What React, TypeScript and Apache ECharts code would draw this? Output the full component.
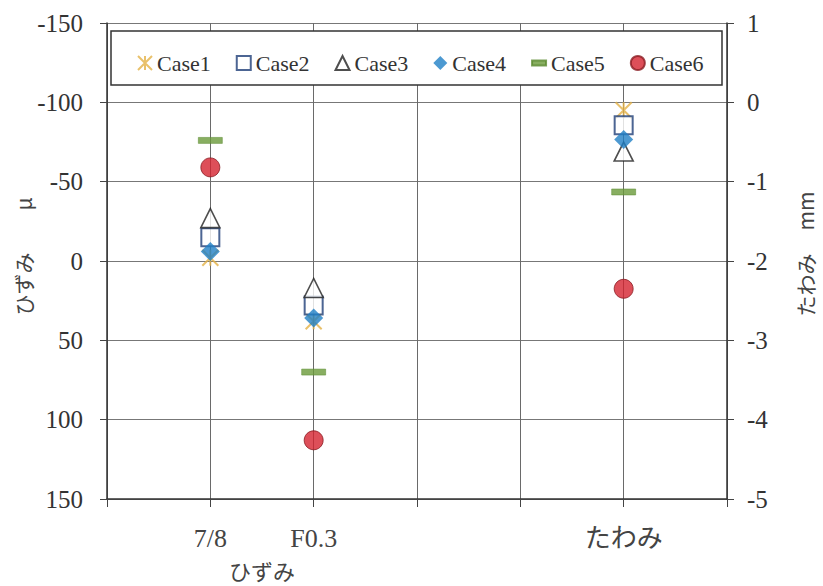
import React, { useEffect, useRef } from "react";
import * as echarts from "echarts";

const xLabels = ["", "7/8", "F0.3", "", "", "たわみ", ""];
const caseNames = ["Case1", "Case2", "Case3", "Case4", "Case5", "Case6"];
// strain (μ) at 7/8 and F0.3, left axis
const strain78 = [-2, -15, -27, -6, -76, -59];
const strainF03 = [38, 28, 17, 36, 70, 113];
// deflection (mm), right axis
const deflection = [-0.1, -0.29, -0.62, -0.47, -1.13, -2.35];
const leftTicks = { min: -150, max: 150, interval: 50 };
const rightTicks = { min: -5, max: 1, interval: 1 };

const FONT = "Liberation Serif, Noto Sans CJK JP, serif";
const JP = "Noto Sans CJK JP, sans-serif";

const styles = [
  {
    symbol: "path://M0,0L10,10M10,0L0,10M5,0L5,10",
    symbolSize: 16,
    itemStyle: { color: "rgba(0,0,0,0)", borderColor: "#e3b246", borderWidth: 2 },
  },
  {
    symbol: "rect",
    symbolSize: 18,
    itemStyle: { color: "#ffffff", borderColor: "#1f3f78", borderWidth: 2 },
  },
  {
    symbol: "triangle",
    symbolSize: 19,
    itemStyle: { color: "#ffffff", borderColor: "#222222", borderWidth: 1.6 },
  },
  {
    symbol: "diamond",
    symbolSize: 19,
    itemStyle: { color: "#1f80c6", borderColor: "#1f80c6", borderWidth: 0 },
  },
  {
    symbol: "rect",
    symbolSize: [24, 6],
    itemStyle: { color: "#6a9a3a", borderColor: "#5a8a30", borderWidth: 0.5 },
  },
  {
    symbol: "circle",
    symbolSize: 19,
    itemStyle: { color: "#d52330", borderColor: "#8a1c22", borderWidth: 1 },
  },
];

const legendIcons = [
  "path://M0,0L10,10M10,0L0,10M5,0L5,10",
  "rect",
  "triangle",
  "diamond",
  "path://M0,0L10,0L10,3.5L0,3.5Z",
  "circle",
];

const vText = (text: string, x: number, y: number) => ({
  type: "text",
  x,
  y,
  rotation: Math.PI / 2,
  style: {
    text,
    font: "21px " + JP,
    fill: "#444",
    align: "center",
    verticalAlign: "middle",
  },
  z: 10,
});

export default function App() {
  const ref = useRef<HTMLDivElement>(null);
  useEffect(() => {
    if (!ref.current) return;
    const chart = echarts.init(ref.current, undefined, { renderer: "svg" });
    const series: any[] = [];
    caseNames.forEach((name, i) => {
      series.push({
        name,
        type: "scatter",
        xAxisIndex: 0,
        yAxisIndex: 0,
        ...styles[i],
        z: 3 + i,
        data: [
          [xLabels.indexOf("7/8"), strain78[i]],
          [xLabels.indexOf("F0.3"), strainF03[i]],
        ],
      });
      series.push({
        name,
        type: "scatter",
        xAxisIndex: 0,
        yAxisIndex: 1,
        ...styles[i],
        z: 3 + i,
        data: [[xLabels.indexOf("たわみ"), deflection[i]]],
      });
    });
    const axisLineStyle = { color: "#333", width: 1.5 };
    chart.setOption({
      animation: false,
      backgroundColor: "#ffffff",
      textStyle: { fontFamily: FONT },
      grid: { left: 107, right: 96, top: 23, bottom: 87, containLabel: false },
      legend: {
        left: 132,
        top: 47,
        itemWidth: 14,
        itemHeight: 14,
        itemGap: 25,
        symbolKeepAspect: true,
        z: 20,
        textStyle: { fontFamily: FONT, fontSize: 22, color: "#333" },
        data: caseNames.map((n, i) => ({ name: n, icon: legendIcons[i] })),
      },
      xAxis: {
        type: "value",
        min: 0,
        max: 6,
        interval: 1,
        axisLine: { show: true, onZero: false, lineStyle: axisLineStyle },
        axisTick: { show: true, length: 8, lineStyle: { color: "#444" } },
        splitLine: { show: true, lineStyle: { color: "#6a6a6a", width: 1 } },
        axisLabel: {
          fontFamily: FONT,
          fontSize: 26,
          color: "#444",
          margin: 26,
          formatter: (v: number) => xLabels[Math.round(v)] ?? "",
        },
      },
      yAxis: [
        {
          type: "value",
          position: "left",
          inverse: true,
          ...leftTicks,
          axisLine: { show: true, onZero: false, lineStyle: axisLineStyle },
          axisTick: { show: true, length: 7, lineStyle: { color: "#444" } },
          splitLine: { show: true, lineStyle: { color: "#777", width: 1 } },
          axisLabel: { fontFamily: FONT, fontSize: 25, color: "#333", margin: 24 },
        },
        {
          type: "value",
          position: "right",
          ...rightTicks,
          axisLine: { show: true, onZero: false, lineStyle: axisLineStyle },
          axisTick: { show: true, length: 7, lineStyle: { color: "#444" } },
          splitLine: { show: false },
          axisLabel: { fontFamily: FONT, fontSize: 25, color: "#333", margin: 20 },
        },
      ],
      graphic: [
        {
          type: "rect",
          shape: { x: 111, y: 31, width: 611, height: 54 },
          style: { fill: "#ffffff", stroke: "#333", lineWidth: 1.5 },
          z: 10,
        },
        vText("ひずみ", 23, 284),
        vText("μ", 23, 204),
        vText("たわみ", 805, 285),
        vText("mm", 805, 211),
        {
          type: "text",
          x: 262,
          y: 570,
          style: {
            text: "ひずみ",
            font: "22px " + JP,
            fill: "#444",
            align: "center",
            verticalAlign: "middle",
          },
          z: 10,
        },
      ],
      series,
    });
    return () => chart.dispose();
  }, []);
  return <div ref={ref} style={{ width: 823, height: 586, position: "absolute", left: 0, top: 0 }} />;
}
